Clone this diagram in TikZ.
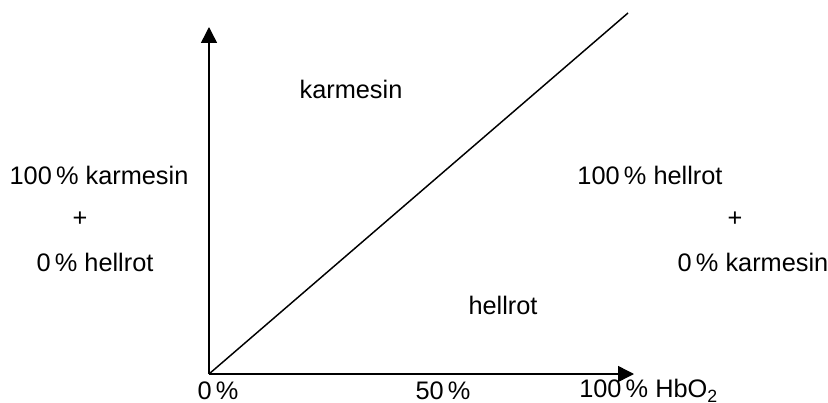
\documentclass[tikz,border=0pt]{standalone}
\usepackage{fontspec}
\setmainfont{Liberation Sans}
\usetikzlibrary{arrows.meta,positioning}

\begin{document}
\begin{tikzpicture}[
  x=0.75pt,y=-0.75pt,
  every node/.style={font=\fontsize{19}{22}\selectfont,inner sep=0pt},
  axis/.style={-{Triangle[length=12pt,width=12pt]},line width=1.1pt},
  diag/.style={line width=1.1pt}
]
  \useasboundingbox (0,0) rectangle (828,403);

  \coordinate (origin) at (209,374);
  \coordinate (ytop) at (209,27);
  \coordinate (xend) at (634,374);
  \coordinate (dtop) at (628,13);

  \draw[axis] (origin) -- (ytop);
  \draw[axis] (origin) -- (xend);
  \draw[diag] (origin) -- (dtop);

  % areas
  \node (karm) at (351,89) {karmesin};
  \node (hell) at (503,305) {hellrot};

  % left side
  \node (lkarm) at (99,175) {100\,\% karmesin};
  \node (lplus) at (80,219) {+};
  \node (lhell) at (95,262) {0\,\% hellrot};

  % right side
  \node (rhell) at (650,175) {100\,\% hellrot};
  \node (rplus) at (735,219) {+};
  \node (rkarm) at (753,262) {0\,\% karmesin};

  % x axis labels
  \node (x0) at (218,391) {0\,\%};
  \node (x50) at (443,391) {50\,\%};
  \node[anchor=west] (x100) at (579,391) {100\,\% HbO\textsubscript{2}};
\end{tikzpicture}
\end{document}
